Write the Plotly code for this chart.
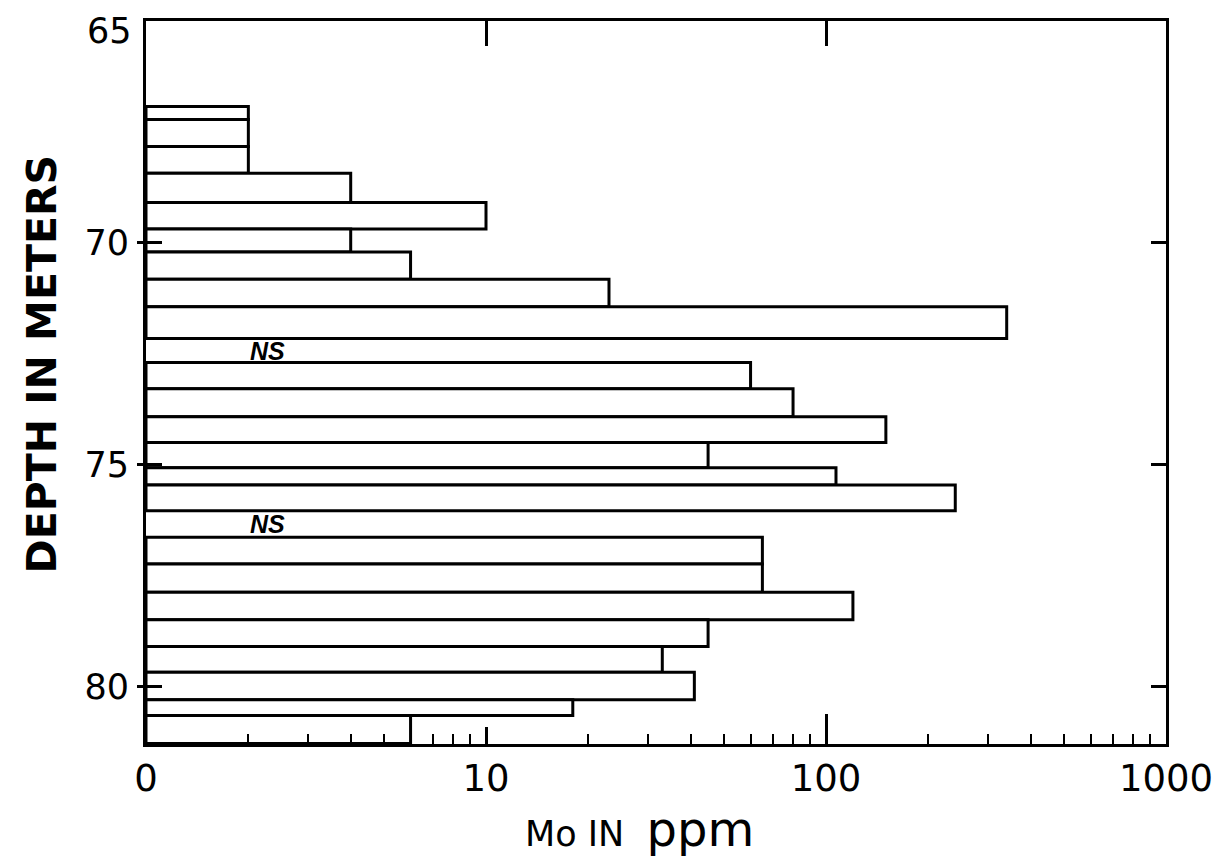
import plotly.graph_objects as go
import numpy as np

# Sample intervals (depth in meters) and Mo concentration (ppm)
depth_from = [66.93, 67.22, 67.83, 68.43, 69.09, 69.69, 70.21, 70.82, 71.44,
              72.70, 73.29, 73.92, 74.50, 75.07, 75.46,
              76.64, 77.24, 77.88, 78.50, 79.10, 79.68, 80.30, 80.66]
depth_to = [67.22, 67.83, 68.43, 69.09, 69.69, 70.21, 70.82, 71.44, 72.16,
            73.29, 73.92, 74.50, 75.07, 75.46, 76.04,
            77.24, 77.88, 78.50, 79.10, 79.68, 80.30, 80.66, 81.29]
mo_ppm = [2, 2, 2, 4, 10, 4, 6, 23, 340,
          60, 80, 150, 45, 107, 240,
          65, 65, 120, 45, 33, 41, 18, 6]

# Not sampled intervals
ns_from = [72.16, 76.04]
ns_to = [72.70, 76.64]
ns_label = "NS"

x_tickvals = [1, 10, 100, 1000]
x_ticktext = ["0", "10", "100", "1000"]
y_tickvals = [70, 75, 80]
y_ticktext = ["70", "75", "80"]
y_top_text = "65"
minor_vals = [m * d for d in (1, 10, 100) for m in range(2, 10)]

x_title = "Mo IN&nbsp; <span style='font-size:48px'>ppm</span>"
y_title = "DEPTH IN METERS"

y_range = [81.3, 65]
x_range = [0, 3]  # log10 units: 1 .. 1000

mid = [(a + b) / 2 for a, b in zip(depth_from, depth_to)]
thick = [b - a for a, b in zip(depth_from, depth_to)]
base_val = 1

fig = go.Figure()
fig.add_trace(go.Bar(
    y=mid, x=[v - base_val for v in mo_ppm], base=base_val, width=thick,
    orientation="h",
    marker=dict(color="white", line=dict(color="black", width=3)),
    customdata=mo_ppm, hovertemplate="%{customdata} ppm<extra></extra>",
    showlegend=False,
))
# empty helper traces so the frame axes (top/right, extra ticks) are drawn
for xa, ya in (("x2", "y2"), ("x", "y3"), ("x", "y4"), ("x3", "y")):
    fig.add_trace(go.Scatter(x=[None], y=[None], xaxis=xa, yaxis=ya,
                             showlegend=False, hoverinfo="skip"))

for a, b in zip(ns_from, ns_to):
    fig.add_annotation(x=np.log10(2.0), y=(a + b) / 2, xref="x", yref="y",
                       text="<b><i>%s</i></b>" % ns_label, showarrow=False,
                       xanchor="left", yanchor="middle",
                       font=dict(family="Liberation Sans", size=25, color="black"))

# top depth label, anchored to the top edge of the page so it is not clipped
fig.add_annotation(x=-0.012, y=1, xref="paper", yref="paper",
                   text=y_top_text, showarrow=False, xanchor="right",
                   yanchor="top", yshift=12,
                   font=dict(family="DejaVu Sans", size=35, color="black"))

# axis titles
fig.add_annotation(x=-0.102, y=0.525, xref="paper", yref="paper",
                   text=y_title, textangle=-90, showarrow=False,
                   xanchor="center", yanchor="middle",
                   font=dict(family="DejaVu Sans", size=41, color="black",
                             weight="bold"))
fig.add_annotation(x=0.484, y=-0.118, xref="paper", yref="paper",
                   text=x_title, showarrow=False,
                   xanchor="center", yanchor="middle",
                   font=dict(family="DejaVu Sans", size=35, color="black"))

common_y = dict(range=y_range, showgrid=False, zeroline=False, automargin=False)

fig.update_layout(
    width=1221, height=860,
    margin=dict(l=138, r=63, t=13, b=124),
    plot_bgcolor="white", paper_bgcolor="white",
    font=dict(family="DejaVu Sans", color="black"),
    xaxis=dict(
        type="log", range=x_range, tickvals=x_tickvals, ticktext=x_ticktext,
        ticks="inside", ticklen=17, tickwidth=3, tickcolor="black",
        showline=True, linewidth=3, linecolor="black", showgrid=False,
        zeroline=False, automargin=False, ticklabeloverflow="allow",
        tickfont=dict(family="DejaVu Sans", size=37, color="black"),
        minor=dict(tickvals=minor_vals, ticks="inside", ticklen=10,
                   tickwidth=2, tickcolor="black", showgrid=False),
    ),
    xaxis2=dict(
        type="log", range=x_range, overlaying="x", side="top", anchor="y2",
        tickvals=[10, 100], ticks="inside", ticklen=25, tickwidth=3,
        tickcolor="black", showticklabels=False, showline=True, linewidth=3,
        linecolor="black", showgrid=False, zeroline=False, automargin=False,
    ),
    xaxis3=dict(
        type="log", range=x_range, overlaying="x", side="bottom", anchor="y",
        tickvals=[100], ticks="inside", ticklen=30, tickwidth=3,
        tickcolor="black", showticklabels=False, showline=False,
        showgrid=False, zeroline=False, automargin=False,
    ),
    yaxis=dict(
        tickvals=y_tickvals, ticktext=y_ticktext, ticks="",
        showline=True, linewidth=3, linecolor="black",
        ticklabeloverflow="allow", ticklabelstandoff=7,
        tickfont=dict(family="DejaVu Sans", size=35, color="black"),
        **common_y,
    ),
    yaxis2=dict(
        overlaying="y", side="right", anchor="x2",
        tickvals=y_tickvals, ticks="inside", ticklen=15, tickwidth=3,
        tickcolor="black", showticklabels=False, showline=True, linewidth=3,
        linecolor="black", **common_y,
    ),
    yaxis3=dict(
        overlaying="y", side="left", anchor="x",
        tickvals=y_tickvals, ticks="inside", ticklen=16, tickwidth=3,
        tickcolor="black", showticklabels=False, showline=False, **common_y,
    ),
    yaxis4=dict(
        overlaying="y", side="left", anchor="x",
        tickvals=y_tickvals, ticks="outside", ticklen=8, tickwidth=3,
        tickcolor="black", showticklabels=False, showline=False, **common_y,
    ),
)

fig.write_html("out.html")
